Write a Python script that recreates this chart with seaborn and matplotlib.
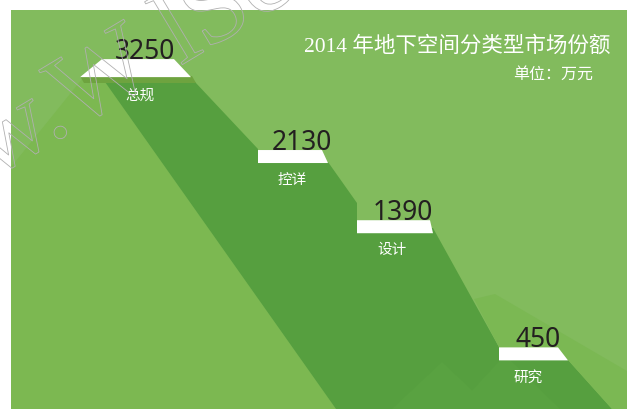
import numpy as np
import pandas as pd
import matplotlib
matplotlib.use("Agg")
import matplotlib.pyplot as plt
import matplotlib.patheffects as pe
from matplotlib.path import Path
from matplotlib.markers import MarkerStyle
import seaborn as sns

# ---- data ----
categories = ["总规", "控详", "设计", "研究"]
values = [3250, 2130, 1390, 450]
title_text = "2014 年地下空间分类型市场份额"
unit_text = "单位：万元"

# ---- layout (pixel units of the green panel) ----
tab_x = [135.5, 293, 395, 533.5]          # horizontal anchor of each step
tab_shapes = [                            # white tab outlines, relative to anchor (y up)
    [(-55.5, 0), (55.5, 0), (38.5, 18), (-33.5, 18)],
    [(-35, 0), (35, 0), (29, 13), (-35, 13)],
    [(-38, 0), (38, 0), (35, 13), (-38, 13)],
    [(-34.5, 0), (34.5, 0), (24.5, 13), (-34.5, 13)],
]
num_dx = [10, 9, 7.5, 5]
lab_dx = [4.5, -1, -3, -5.5]
lab_dy = [-18, -16, -16, -16]

DPI = 100
W, H = 627, 410
PANEL_L, PANEL_T = 11, 11

sns.set_theme(style="white")
plt.rcParams["font.family"] = ["Noto Sans", "Noto Sans CJK SC", "DejaVu Sans"]

fig = plt.figure(figsize=(W / DPI, H / DPI), dpi=DPI)
fig.patch.set_facecolor("white")
ax = fig.add_axes([PANEL_L / W, 0, 1 - PANEL_L / W, 1 - PANEL_T / H])
ax.set_facecolor("#82BB5D")

# value axis on a square-root scale
ax.set_yscale("function", functions=(lambda v: np.sqrt(np.clip(v, 0, None)), np.square))
ax.set_xlim(PANEL_L, W)
ax.set_ylim(227.1, 4289)


def frac(pts):
    return [((x - PANEL_L) / (W - PANEL_L), (H - y) / (H - PANEL_T)) for x, y in pts]


# decorative background: hills and the long shadow of the steps
shapes = [
    ([(11, 168), (82, 80), (105, 83), (336, 410), (11, 410)], "#7CB851"),
    ([(105, 83), (195, 83), (258, 150), (258, 163), (328, 163), (357, 204),
      (357, 229), (433, 229), (500, 350), (568, 361), (612, 410), (336, 410)], "#569F3F"),
    ([(474, 300), (495, 295), (627, 372), (627, 410), (612, 410), (568, 361), (500, 350)], "#7BB853"),
    ([(392, 410), (442, 363), (492, 410)], "#59A241"),
    ([(455, 410), (505, 356), (560, 410)], "#59A241"),
    ([(80, 77), (192, 77), (196, 84), (84, 84)], "#6EA33F"),
]
for pts, col in shapes:
    xs, ys = zip(*frac(pts))
    ax.fill(xs, ys, color=col, lw=0, transform=ax.transAxes, zorder=1)

df = pd.DataFrame({"category": categories, "value": values, "x": tab_x})

# white tabs drawn as custom markers sitting on each value
for i, row in df.iterrows():
    verts = tab_shapes[i]
    r = np.max(np.abs(verts))
    path = Path(verts + [verts[0]], [Path.MOVETO] + [Path.LINETO] * 3 + [Path.CLOSEPOLY])
    size_pt = 2 * r * 72 / DPI
    sns.scatterplot(x=[row["x"]], y=[row["value"]], marker=MarkerStyle(path),
                    s=size_pt ** 2, color="white", edgecolor="none", linewidth=0,
                    ax=ax, zorder=3, legend=False)
    h = max(v[1] for v in verts)
    ax.annotate(f"{row['value']}", xy=(row["x"], row["value"]),
                xytext=(num_dx[i], h + 1), textcoords="offset pixels",
                ha="center", va="baseline", fontsize=19, color="#231f20",
                family=["Noto Sans", "DejaVu Sans"], zorder=4)
    ax.annotate(row["category"], xy=(row["x"], row["value"]),
                xytext=(lab_dx[i], lab_dy[i]), textcoords="offset pixels",
                ha="center", va="center", fontsize=10.5, color="white",
                family=["Noto Sans CJK SC", "DejaVu Sans"], zorder=4)

ax.set_xticks([])
ax.set_yticks([])
ax.set_yticks([], minor=True)
ax.set_xlabel("")
ax.set_ylabel("")
for s in ax.spines.values():
    s.set_visible(False)

fig.text(610 / W, 1 - 46 / H, title_text, ha="right", va="center", fontsize=15.5,
         color="white", family=["Liberation Serif", "Noto Sans CJK SC"], fontweight="light")
fig.text(593 / W, 1 - 75 / H, unit_text, ha="right", va="center", fontsize=11.5,
         color="white", family=["Liberation Serif", "Noto Sans CJK SC"], fontweight="light")

# faint outlined site mark across the upper left
fig.text(-8 / W, 1 - 180 / H, "w.W lSc", rotation=31, rotation_mode="anchor",
         ha="left", va="baseline", fontsize=76, family="Liberation Serif",
         color=(0, 0, 0, 0), zorder=10,
         path_effects=[pe.withStroke(linewidth=0.6, foreground="#b0b0b0")])

fig.savefig("out.png", dpi=DPI)
